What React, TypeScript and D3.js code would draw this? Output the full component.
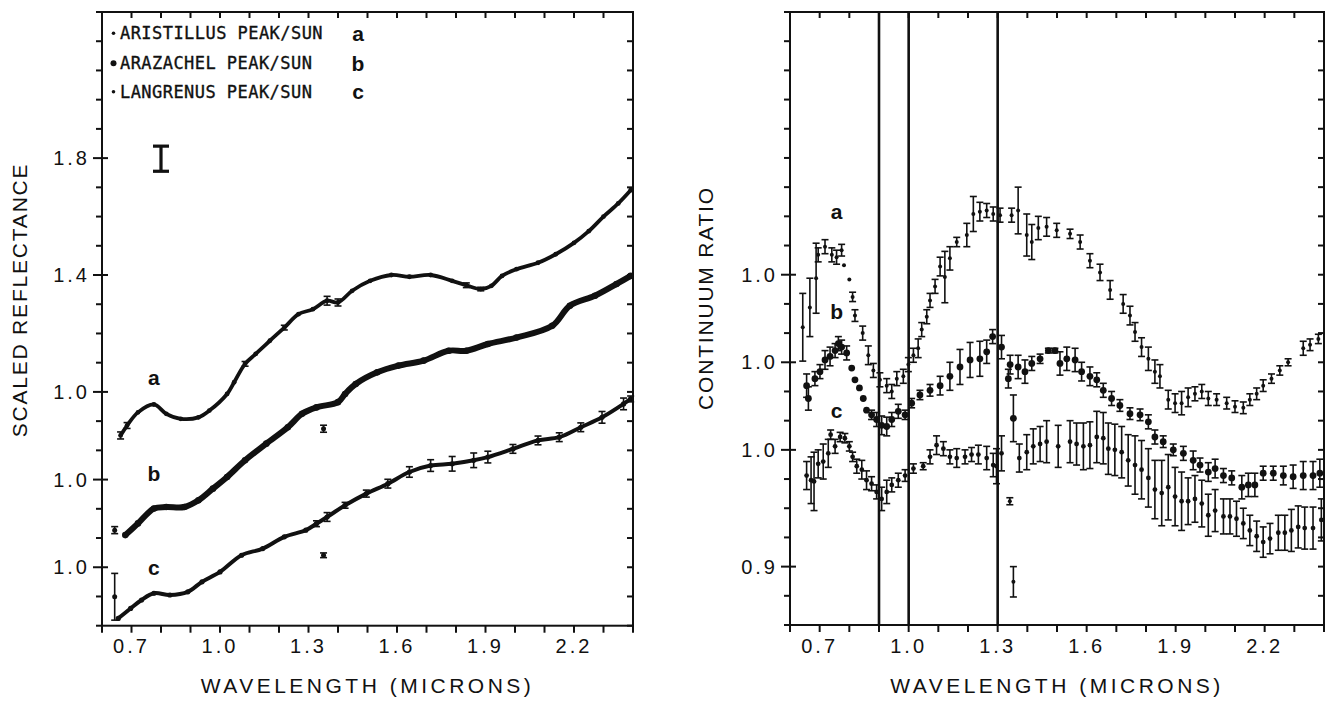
import * as d3 from 'd3';

// [wavelength (microns), value, half error bar]
type Pt = [number, number, number];

// ---- left panel: scaled reflectance (b and c shifted down by 0.3 and 0.6) ----
const leftA: Pt[] = [
  [0.663, 0.851, 0.012], [0.685, 0.885, 0.01], [0.722, 0.93, 0], [0.776, 0.957, 0],
  [0.818, 0.925, 0], [0.867, 0.908, 0], [0.927, 0.913, 0], [0.964, 0.936, 0],
  [1.024, 0.993, 0], [1.048, 1.033, 0], [1.085, 1.096, 0.008], [1.121, 1.13, 0],
  [1.169, 1.175, 0], [1.218, 1.22, 0.008], [1.266, 1.266, 0], [1.315, 1.283, 0],
  [1.363, 1.312, 0.015], [1.4, 1.306, 0.012], [1.448, 1.346, 0], [1.509, 1.38, 0],
  [1.581, 1.4, 0], [1.642, 1.394, 0], [1.714, 1.4, 0], [1.787, 1.38, 0],
  [1.835, 1.365, 0.008], [1.884, 1.352, 0.006], [1.92, 1.363, 0], [1.956, 1.397, 0],
  [2.005, 1.42, 0], [2.078, 1.442, 0], [2.138, 1.471, 0], [2.2, 1.51, 0],
  [2.25, 1.55, 0], [2.3, 1.6, 0], [2.35, 1.645, 0], [2.392, 1.69, 0],
];
const leftB: Pt[] = [
  [0.679, 0.51, 0], [0.722, 0.55, 0], [0.776, 0.601, 0], [0.818, 0.606, 0],
  [0.879, 0.606, 0], [0.927, 0.629, 0], [0.976, 0.669, 0], [1.024, 0.709, 0],
  [1.085, 0.766, 0], [1.157, 0.823, 0], [1.23, 0.879, 0], [1.278, 0.925, 0],
  [1.327, 0.947, 0], [1.4, 0.965, 0], [1.424, 0.993, 0], [1.46, 1.027, 0],
  [1.533, 1.067, 0], [1.605, 1.09, 0], [1.69, 1.107, 0], [1.775, 1.141, 0],
  [1.835, 1.141, 0], [1.908, 1.164, 0], [2.005, 1.186, 0], [2.126, 1.226, 0],
  [2.186, 1.295, 0], [2.271, 1.329, 0], [2.344, 1.369, 0], [2.392, 1.397, 0],
];
const leftC: Pt[] = [
  [0.655, 0.225, 0], [0.697, 0.259, 0], [0.734, 0.288, 0], [0.776, 0.311, 0],
  [0.83, 0.305, 0], [0.891, 0.316, 0], [0.939, 0.35, 0], [1.0, 0.384, 0],
  [1.073, 0.441, 0], [1.145, 0.464, 0], [1.218, 0.504, 0], [1.291, 0.527, 0],
  [1.327, 0.549, 0.01], [1.363, 0.572, 0.015], [1.424, 0.612, 0.01], [1.496, 0.652, 0.012],
  [1.569, 0.686, 0.015], [1.642, 0.726, 0.018], [1.714, 0.748, 0.02], [1.787, 0.754, 0.025],
  [1.86, 0.766, 0.025], [1.908, 0.777, 0.02], [1.993, 0.805, 0.015], [2.078, 0.834, 0.015],
  [2.15, 0.845, 0.015], [2.223, 0.879, 0.015], [2.295, 0.913, 0.02], [2.368, 0.959, 0.02],
  [2.392, 0.976, 0.01],
];
const leftStray: Pt[] = [
  [0.643, 0.527, 0.012], [0.643, 0.299, 0.08], [1.351, 0.874, 0.012], [1.351, 0.441, 0.008],
];
const leftRefBar: Pt = [0.8, 1.798, 0.043];

// ---- right panel: continuum ratio (a and b shifted up by 0.15 and 0.075) ----
const rightA: Pt[] = [
  [0.643, 1.105, 0.029], [0.667, 1.122, 0.025], [0.688, 1.147, 0.03], [0.695, 1.167, 0.006],
  [0.718, 1.174, 0.006], [0.741, 1.167, 0.006], [0.757, 1.165, 0.006], [0.774, 1.171, 0.005],
  [0.782, 1.158, 0], [0.8, 1.146, 0], [0.811, 1.131, 0.004], [0.819, 1.115, 0.005],
  [0.845, 1.1, 0.006], [0.864, 1.081, 0.008], [0.881, 1.068, 0.006], [0.903, 1.06, 0.006],
  [0.926, 1.055, 0.006], [0.943, 1.05, 0.006], [0.96, 1.061, 0.006], [0.982, 1.063, 0.006],
  [0.999, 1.073, 0.006], [1.016, 1.081, 0.006], [1.032, 1.087, 0.008], [1.044, 1.103, 0.006],
  [1.061, 1.114, 0.006], [1.072, 1.128, 0.006], [1.089, 1.14, 0.006], [1.106, 1.157, 0.008],
  [1.122, 1.148, 0.022], [1.139, 1.164, 0.01], [1.162, 1.178, 0.004], [1.196, 1.184, 0.01],
  [1.218, 1.202, 0.015], [1.24, 1.204, 0.008], [1.263, 1.205, 0.006], [1.285, 1.202, 0.006],
  [1.308, 1.201, 0.006], [1.347, 1.201, 0.006], [1.369, 1.205, 0.02], [1.398, 1.184, 0.018],
  [1.415, 1.178, 0.015], [1.437, 1.19, 0.01], [1.465, 1.191, 0.008], [1.499, 1.188, 0.006],
  [1.544, 1.185, 0.004], [1.578, 1.178, 0.006], [1.611, 1.162, 0.006], [1.645, 1.152, 0.007],
  [1.679, 1.137, 0.008], [1.723, 1.125, 0.008], [1.746, 1.115, 0.008], [1.763, 1.101, 0.008],
  [1.785, 1.088, 0.008], [1.808, 1.078, 0.01], [1.83, 1.067, 0.01], [1.847, 1.063, 0.01],
  [1.875, 1.043, 0.008], [1.898, 1.04, 0.008], [1.92, 1.04, 0.01], [1.942, 1.045, 0.008],
  [1.965, 1.048, 0.006], [1.988, 1.05, 0.006], [2.01, 1.044, 0.006], [2.038, 1.043, 0.005],
  [2.072, 1.04, 0.005], [2.1, 1.037, 0.005], [2.128, 1.036, 0.005], [2.15, 1.043, 0.005],
  [2.173, 1.048, 0.005], [2.195, 1.055, 0.005], [2.223, 1.061, 0.004], [2.251, 1.068, 0.004],
  [2.279, 1.075, 0.003], [2.33, 1.087, 0.006], [2.353, 1.09, 0.005], [2.381, 1.095, 0.004],
];
const rightB: Pt[] = [
  [0.656, 1.055, 0.01], [0.662, 1.044, 0.01], [0.684, 1.061, 0.006], [0.701, 1.067, 0.006],
  [0.718, 1.077, 0.008], [0.735, 1.08, 0.008], [0.752, 1.085, 0.006], [0.763, 1.091, 0.006],
  [0.774, 1.088, 0.006], [0.791, 1.083, 0.006], [0.808, 1.07, 0], [0.819, 1.06, 0],
  [0.834, 1.053, 0], [0.847, 1.044, 0], [0.858, 1.034, 0], [0.875, 1.03, 0.004],
  [0.892, 1.026, 0.006], [0.909, 1.021, 0.008], [0.926, 1.02, 0.008], [0.943, 1.026, 0.006],
  [0.965, 1.033, 0.006], [0.988, 1.03, 0.004], [1.01, 1.04, 0.004], [1.038, 1.047, 0.004],
  [1.072, 1.051, 0.005], [1.106, 1.055, 0.008], [1.139, 1.063, 0.012], [1.173, 1.071, 0.015],
  [1.207, 1.077, 0.015], [1.24, 1.078, 0.015], [1.263, 1.084, 0.01], [1.283, 1.097, 0.006],
  [1.313, 1.088, 0.01], [1.336, 1.061, 0.008], [1.342, 1.073, 0.008], [1.353, 1.027, 0.02],
  [1.369, 1.071, 0.01], [1.392, 1.067, 0.01], [1.415, 1.074, 0.006], [1.443, 1.078, 0.004],
  [1.471, 1.085, 0.002], [1.493, 1.085, 0.002], [1.51, 1.074, 0.01], [1.533, 1.078, 0.01],
  [1.561, 1.077, 0.01], [1.583, 1.067, 0.008], [1.611, 1.063, 0.008], [1.634, 1.06, 0.006],
  [1.656, 1.051, 0.006], [1.684, 1.044, 0.006], [1.712, 1.038, 0.005], [1.746, 1.031, 0.005],
  [1.78, 1.03, 0.005], [1.808, 1.024, 0.006], [1.83, 1.011, 0.006], [1.858, 1.007, 0.005],
  [1.892, 1.0, 0.005], [1.926, 0.997, 0.006], [1.959, 0.991, 0.008], [1.982, 0.987, 0.006],
  [2.01, 0.981, 0.008], [2.033, 0.984, 0.008], [2.061, 0.978, 0.006], [2.089, 0.976, 0.006],
  [2.123, 0.968, 0.01], [2.145, 0.97, 0.01], [2.167, 0.97, 0.01], [2.195, 0.98, 0.006],
  [2.229, 0.98, 0.006], [2.263, 0.978, 0.008], [2.296, 0.977, 0.01], [2.33, 0.978, 0.012],
  [2.363, 0.978, 0.012], [2.386, 0.98, 0.012],
];
const rightC: Pt[] = [
  [0.656, 0.978, 0.012], [0.671, 0.974, 0.02], [0.681, 0.973, 0.025], [0.695, 0.988, 0.012],
  [0.712, 0.99, 0.015], [0.729, 0.997, 0.012], [0.737, 1.013, 0.004], [0.752, 1.003, 0.006],
  [0.769, 1.011, 0.004], [0.785, 1.01, 0.004], [0.8, 1.003, 0.004], [0.811, 0.994, 0.004],
  [0.825, 0.986, 0.006], [0.842, 0.983, 0.008], [0.858, 0.974, 0.008], [0.875, 0.971, 0.006],
  [0.892, 0.964, 0.006], [0.909, 0.958, 0.01], [0.926, 0.964, 0.01], [0.943, 0.97, 0.006],
  [0.965, 0.974, 0.006], [0.988, 0.978, 0.005], [1.016, 0.984, 0.004], [1.049, 0.986, 0.003],
  [1.072, 0.994, 0.006], [1.094, 1.004, 0.008], [1.117, 1.001, 0.006], [1.139, 0.994, 0.006],
  [1.162, 0.993, 0.008], [1.19, 0.994, 0.006], [1.212, 0.996, 0.006], [1.235, 0.996, 0.008],
  [1.263, 0.993, 0.01], [1.285, 0.987, 0.01], [1.296, 0.986, 0.015], [1.313, 0.997, 0.015],
  [1.373, 0.993, 0.012], [1.398, 0.998, 0.015], [1.42, 1.003, 0.015], [1.443, 1.005, 0.015],
  [1.465, 1.007, 0.018], [1.504, 1.003, 0.018], [1.544, 1.007, 0.018], [1.566, 1.005, 0.018],
  [1.589, 1.003, 0.02], [1.611, 1.004, 0.02], [1.634, 1.011, 0.022], [1.656, 1.01, 0.022],
  [1.673, 1.001, 0.022], [1.695, 1.0, 0.022], [1.718, 0.998, 0.022], [1.74, 0.991, 0.022],
  [1.763, 0.987, 0.025], [1.785, 0.983, 0.025], [1.808, 0.976, 0.025], [1.83, 0.966, 0.025],
  [1.853, 0.963, 0.028], [1.875, 0.968, 0.028], [1.898, 0.96, 0.025], [1.92, 0.956, 0.025],
  [1.942, 0.956, 0.02], [1.965, 0.958, 0.02], [1.988, 0.954, 0.02], [2.01, 0.944, 0.018],
  [2.033, 0.948, 0.018], [2.061, 0.943, 0.015], [2.083, 0.943, 0.015], [2.105, 0.941, 0.015],
  [2.128, 0.937, 0.013], [2.15, 0.931, 0.013], [2.173, 0.926, 0.013], [2.195, 0.921, 0.013],
  [2.218, 0.924, 0.013], [2.246, 0.929, 0.015], [2.268, 0.929, 0.015], [2.29, 0.931, 0.018],
  [2.313, 0.934, 0.018], [2.335, 0.933, 0.018], [2.363, 0.933, 0.018], [2.391, 0.94, 0.018],
];
const rightStray: Pt[] = [[1.341, 0.956, 0.003], [1.353, 0.887, 0.013]];
const bandLines = [0.9, 1.0, 1.3];

const xTickLabels = ['0.7', '1.0', '1.3', '1.6', '1.9', '2.2'];
const leftYLabels: [number, string][] = [[1.8, '1.8'], [1.4, '1.4'], [1.0, '1.0'], [0.7, '1.0'], [0.4, '1.0']];
const rightYLabels: [number, string][] = [[1.15, '1.0'], [1.075, '1.0'], [1.0, '1.0'], [0.9, '0.9']];
const legendNames = ['ARISTILLUS PEAK/SUN', 'ARAZACHEL PEAK/SUN', 'LANGRENUS PEAK/SUN'];
const curveLetters = ['a', 'b', 'c'];
const leftLetterPos: [number, number][] = [[0.776, 1.049], [0.776, 0.721], [0.776, 0.397]];
const rightLetterPos: [number, number][] = [[0.757, 1.204], [0.757, 1.118], [0.757, 1.034]];

const SANS = '"Liberation Sans", Arial, sans-serif';
const INK = '#111';

const xLeft = d3.scaleLinear().domain([0.6, 2.4]).range([102, 633]);
const yLeft = d3.scaleLinear().domain([0.2, 2.3]).range([625.7, 12]);
const xRight = d3.scaleLinear().domain([0.6, 2.4]).range([790, 1324]);
const yRight = d3.scaleLinear().domain([0.85, 1.375]).range([625, 12]);

const xTicks = d3.range(0, 19).map(i => +(0.6 + i * 0.1).toFixed(2));
const yTicksLeft = d3.range(0, 22).map(i => +(0.2 + i * 0.1).toFixed(2));
const yTicksRight = d3.range(0, 22).map(i => +(0.85 + i * 0.025).toFixed(3));

type Scale = d3.ScaleLinear<number, number>;

function Axes({ x, y, yTicks, yLabels }: { x: Scale; y: Scale; yTicks: number[]; yLabels: [number, string][] }) {
  const [x0, x1] = x.range();
  const [y0, y1] = y.range();
  const labelled = yLabels.map(d => d[0]);
  return (
    <g>
      <rect x={x0} y={y1} width={x1 - x0} height={y0 - y1} fill="none" stroke={INK} strokeWidth={2} />
      {xTicks.map(t => (
        <g key={'x' + t}>
          <line x1={x(t)} x2={x(t)} y1={y0} y2={y0 + 7} stroke={INK} strokeWidth={2} />
          <line x1={x(t)} x2={x(t)} y1={y1} y2={y1 + 6} stroke={INK} strokeWidth={2} />
        </g>
      ))}
      {yTicks.map(t => {
        const major = labelled.some(v => Math.abs(v - t) < 1e-6);
        return (
          <g key={'y' + t}>
            <line x1={x0 - (major ? 9 : 6)} x2={x0 + (major ? 6 : 0)} y1={y(t)} y2={y(t)} stroke={INK} strokeWidth={2} />
            <line x1={x1} x2={x1 - 6} y1={y(t)} y2={y(t)} stroke={INK} strokeWidth={2} />
          </g>
        );
      })}
      {xTickLabels.map(t => (
        <text key={'xl' + t} x={x(+t)} y={653} textAnchor="middle" fontFamily={SANS} fontSize={20} fill={INK} style={{ letterSpacing: '3px' }}>{t}</text>
      ))}
      {yLabels.map(([v, t], i) => (
        <text key={'yl' + i} x={x0 - 12} y={y(v)} dy="0.36em" textAnchor="end" fontFamily={SANS} fontSize={20} fill={INK} style={{ letterSpacing: '3px' }}>{t}</text>
      ))}
      <text x={(x0 + x1) / 2} y={693} textAnchor="middle" fontFamily={SANS} fontSize={21} fill={INK} style={{ letterSpacing: '3.5px' }}>WAVELENGTH (MICRONS)</text>
    </g>
  );
}

function ErrorBars({ data, x, y, cap }: { data: Pt[]; x: Scale; y: Scale; cap: number }) {
  return (
    <g stroke={INK} strokeWidth={1.6}>
      {data.filter(d => d[2] > 0).map((d, i) => {
        const cx = x(d[0]);
        const top = y(d[1] + d[2]);
        const bot = y(d[1] - d[2]);
        return (
          <g key={i}>
            <line x1={cx} x2={cx} y1={top} y2={bot} />
            <line x1={cx - cap / 2} x2={cx + cap / 2} y1={top} y2={top} />
            <line x1={cx - cap / 2} x2={cx + cap / 2} y1={bot} y2={bot} />
          </g>
        );
      })}
    </g>
  );
}

function Dots({ data, x, y, r }: { data: Pt[]; x: Scale; y: Scale; r: number }) {
  return (
    <g fill={INK}>
      {data.map((d, i) => <circle key={i} cx={x(d[0])} cy={y(d[1])} r={r} />)}
    </g>
  );
}

export default function App() {
  const lineL = d3.line<Pt>().x(d => xLeft(d[0])).y(d => yLeft(d[1])).curve(d3.curveCatmullRom.alpha(0.5));
  const leftSeries: [Pt[], number, number][] = [[leftA, 3.8, 2.4], [leftB, 6, 3.3], [leftC, 4, 2.6]];
  const rightSeries: [Pt[], number][] = [[rightA, 2], [rightB, 3.4], [rightC, 2.4]];

  return (
    <svg width={1331} height={703} style={{ position: 'absolute', left: 0, top: 0, background: '#fff' }}>
      <rect width={1331} height={703} fill="#fff" />

      {/* left panel */}
      <Axes x={xLeft} y={yLeft} yTicks={yTicksLeft} yLabels={leftYLabels} />
      <text transform="translate(27,300) rotate(-90)" textAnchor="middle" fontFamily={SANS} fontSize={21} fill={INK} style={{ letterSpacing: '1.8px' }}>SCALED REFLECTANCE</text>
      {leftSeries.map(([data, w, r], i) => (
        <g key={'ls' + i}>
          <path d={lineL(data) ?? ''} fill="none" stroke={INK} strokeWidth={w} strokeLinejoin="round" />
          <Dots data={data} x={xLeft} y={yLeft} r={r} />
          <ErrorBars data={data} x={xLeft} y={yLeft} cap={7} />
        </g>
      ))}
      <Dots data={leftStray} x={xLeft} y={yLeft} r={2.5} />
      <ErrorBars data={leftStray} x={xLeft} y={yLeft} cap={7} />
      <g stroke={INK} strokeWidth={3.2}>
        <line x1={xLeft(leftRefBar[0])} x2={xLeft(leftRefBar[0])} y1={yLeft(leftRefBar[1] + leftRefBar[2])} y2={yLeft(leftRefBar[1] - leftRefBar[2])} />
        <line x1={xLeft(leftRefBar[0]) - 8} x2={xLeft(leftRefBar[0]) + 8} y1={yLeft(leftRefBar[1] + leftRefBar[2])} y2={yLeft(leftRefBar[1] + leftRefBar[2])} />
        <line x1={xLeft(leftRefBar[0]) - 8} x2={xLeft(leftRefBar[0]) + 8} y1={yLeft(leftRefBar[1] - leftRefBar[2])} y2={yLeft(leftRefBar[1] - leftRefBar[2])} />
      </g>
      {curveLetters.map((t, i) => (
        <text key={'ll' + t} x={xLeft(leftLetterPos[i][0])} y={yLeft(leftLetterPos[i][1])} dy="0.35em" textAnchor="middle" fontFamily={SANS} fontSize={21} fontWeight="bold" fill={INK}>{t}</text>
      ))}

      {/* legend */}
      {legendNames.map((name, i) => {
        const cy = [33.3, 63.3, 91.7][i];
        return (
          <g key={'lg' + i}>
            <circle cx={113.5} cy={cy} r={i === 1 ? 3 : 1.8} fill={INK} />
            <text x={120} y={cy + 6} fontFamily='"DejaVu Sans Mono", monospace' fontSize={17} fill={INK} stroke={INK} strokeWidth={0.35} style={{ letterSpacing: '0.45px' }}>{name}</text>
            <text x={358} y={cy} dy="0.35em" textAnchor="middle" fontFamily={SANS} fontSize={21} fontWeight="bold" fill={INK}>{curveLetters[i]}</text>
          </g>
        );
      })}

      {/* right panel */}
      <Axes x={xRight} y={yRight} yTicks={yTicksRight} yLabels={rightYLabels} />
      <text transform="translate(713,298) rotate(-90)" textAnchor="middle" fontFamily={SANS} fontSize={21} fill={INK} style={{ letterSpacing: '1.8px' }}>CONTINUUM RATIO</text>
      {bandLines.map(b => (
        <line key={'bl' + b} x1={xRight(b)} x2={xRight(b)} y1={12} y2={625} stroke={INK} strokeWidth={2.6} />
      ))}
      {rightSeries.map(([data, r], i) => (
        <g key={'rs' + i}>
          <ErrorBars data={data} x={xRight} y={yRight} cap={7} />
          <Dots data={data} x={xRight} y={yRight} r={r} />
        </g>
      ))}
      <ErrorBars data={rightStray} x={xRight} y={yRight} cap={7} />
      <Dots data={rightStray} x={xRight} y={yRight} r={2} />
      {curveLetters.map((t, i) => (
        <text key={'rl' + t} x={xRight(rightLetterPos[i][0])} y={yRight(rightLetterPos[i][1])} dy="0.35em" textAnchor="middle" fontFamily={SANS} fontSize={21} fontWeight="bold" fill={INK}>{t}</text>
      ))}
    </svg>
  );
}
